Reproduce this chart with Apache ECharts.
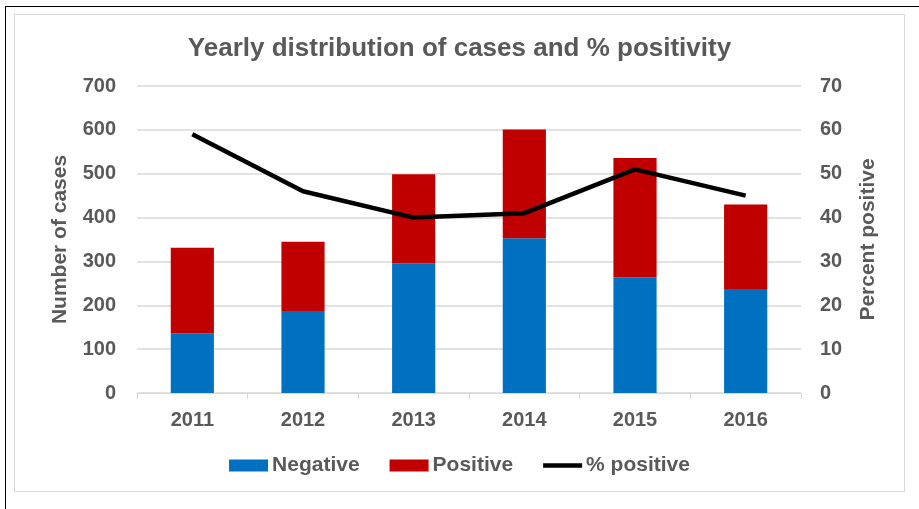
<!DOCTYPE html>
<html><head><meta charset="utf-8">
<script src="https://cdn.jsdelivr.net/npm/echarts@6/dist/echarts.min.js"></script>
<style>
html,body{margin:0;padding:0;background:#fff;}
#wrap{position:absolute;left:5px;top:6px;width:920px;height:510px;border:1px solid #000;box-sizing:border-box;}
#inner{position:absolute;left:14px;top:14px;width:891px;height:478px;border:1px solid #d9d9d9;box-sizing:border-box;}
#c{position:absolute;left:0;top:0;width:919px;height:509px;}
</style></head>
<body>
<div id="wrap"></div><div id="inner"></div>
<div id="c"></div>
<script>
const categories = ['2011','2012','2013','2014','2015','2016'];
const negative = [136, 187, 296, 353, 264, 237];
const positive = [195, 158, 203, 248, 272, 193];
const pctPositive = [59, 46, 40, 41, 51, 45];

const txt = '#595959';
const ff = '"Liberation Sans", Arial, sans-serif';
const chart = echarts.init(document.getElementById('c'));
chart.setOption({
  animation: false,
  textStyle: {fontFamily: ff},
  title: {text: 'Yearly distribution of cases and % positivity', left: 'center', top: 31,
    textStyle: {fontFamily: ff, fontSize: 26, fontWeight: 'bold', color: txt}},
  legend: {top: 450, left: 'center', itemWidth: 39, itemHeight: 12, itemGap: 30, symbolKeepAspect: true,
    textStyle: {fontFamily: ff, fontSize: 21, fontWeight: 'bold', color: txt, padding: [0,0,0,-1]},
    data: [{name:'Negative', icon:'rect'}, {name:'Positive', icon:'rect'},
           {name:'% positive', icon:'path://M0,0 H40 V4.5 H0 Z'}]},
  grid: {left: 137, right: 118, top: 86, bottom: 116},
  xAxis: {type: 'category', data: categories,
    axisLine: {lineStyle: {color: '#d9d9d9', width: 1}},
    axisTick: {show: true, length: 6, lineStyle: {color: '#d9d9d9'}},
    axisLabel: {color: txt, fontSize: 20, fontWeight: 'bold', margin: 17, fontFamily: ff}},
  yAxis: [
    {type: 'value', min: 0, max: 700, interval: 100, name: 'Number of cases', nameLocation: 'middle', nameGap: 66,
     nameTextStyle: {color: txt, fontSize: 21, fontWeight: 'bold', fontFamily: ff},
     axisLabel: {color: txt, fontSize: 20, fontWeight: 'bold', margin: 21, fontFamily: ff},
     splitLine: {lineStyle: {color: '#d9d9d9', width: 1.5}}, axisLine: {show: false}, axisTick: {show: false}},
    {type: 'value', min: 0, max: 70, interval: 10, name: 'Percent positive', nameLocation: 'middle', nameGap: 57,
     nameRotate: 90,
     nameTextStyle: {color: txt, fontSize: 21, fontWeight: 'bold', fontFamily: ff},
     axisLabel: {color: txt, fontSize: 20, fontWeight: 'bold', margin: 19, fontFamily: ff},
     splitLine: {show: false}, axisLine: {show: false}, axisTick: {show: false}}
  ],
  series: [
    {name: 'Negative', type: 'bar', stack: 'a', data: negative, barWidth: '39%', itemStyle: {color: '#0070c0'}},
    {name: 'Positive', type: 'bar', stack: 'a', data: positive, barWidth: '39%', itemStyle: {color: '#c00000'}},
    {name: '% positive', type: 'line', yAxisIndex: 1, data: pctPositive, symbol: 'none',
     lineStyle: {color: '#000', width: 4.5}, itemStyle: {color: '#000'}}
  ]
});
</script>
</body></html>
